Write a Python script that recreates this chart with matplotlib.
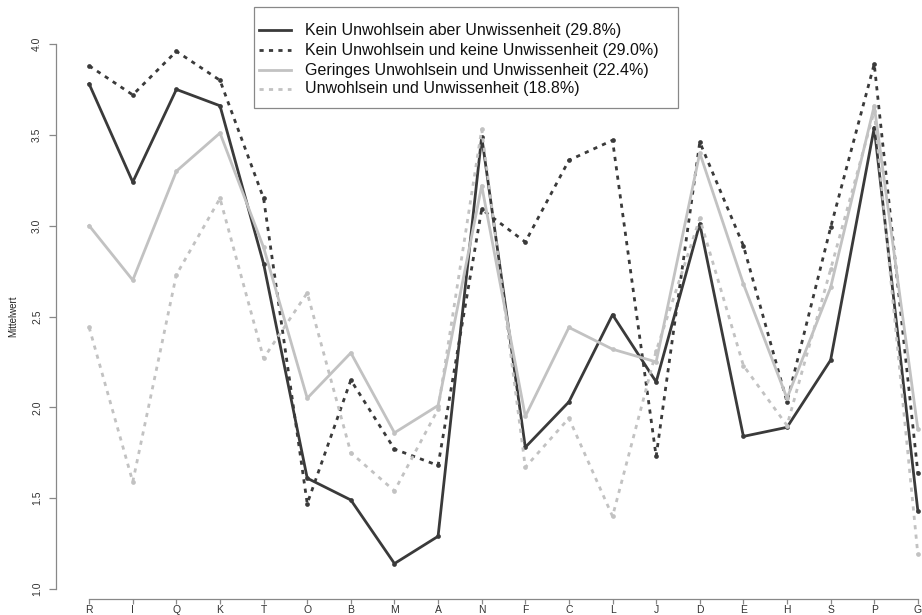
import matplotlib
matplotlib.use("Agg")
import matplotlib.pyplot as plt
import numpy as np
from matplotlib.lines import Line2D
from matplotlib.patches import Rectangle

plt.rcParams["font.family"] = ["Liberation Sans", "DejaVu Sans"]

# categories on the x axis
items = ["R", "I", "Q", "K", "T", "O", "B", "M", "A", "N",
         "F", "C", "L", "J", "D", "E", "H", "S", "P", "G"]

# mean values per latent class
kein_unwohl_aber_unwiss = [3.78, 3.24, 3.75, 3.66, 2.79, 1.61, 1.49, 1.14, 1.29, 3.49,
                           1.78, 2.03, 2.51, 2.14, 3.01, 1.84, 1.89, 2.26, 3.54, 1.43]
kein_unwohl_keine_unwiss = [3.88, 3.72, 3.96, 3.80, 3.15, 1.47, 2.15, 1.77, 1.68, 3.09,
                            2.91, 3.36, 3.47, 1.73, 3.46, 2.89, 2.03, 2.99, 3.89, 1.64]
geringes_unwohl_unwiss = [3.00, 2.70, 3.30, 3.51, 2.88, 2.05, 2.30, 1.86, 2.01, 3.22,
                          1.95, 2.44, 2.32, 2.25, 3.40, 2.68, 2.05, 2.66, 3.66, 1.88]
unwohl_unwiss = [2.44, 1.59, 2.73, 3.15, 2.27, 2.63, 1.75, 1.54, 1.99, 3.53,
                 1.67, 1.94, 1.40, 2.31, 3.04, 2.23, 1.90, 2.76, 3.63, 1.19]

labels = [
    "Kein Unwohlsein aber Unwissenheit (29.8%)",
    "Kein Unwohlsein und keine Unwissenheit (29.0%)",
    "Geringes Unwohlsein und Unwissenheit (22.4%)",
    "Unwohlsein und Unwissenheit (18.8%)",
]

dark = "#3a3a3a"
light = "#c2c2c2"
dashes = (0, (1.5, 1.9))

W, H = 922, 615


def fx(px):
    return px / W


def fy(py):
    return 1 - py / H


fig = plt.figure(figsize=(W / 100, H / 100), dpi=100)
# right edge of the plot region lies outside the picture (cropped original)
ax = fig.add_axes([fx(56), fy(589), (951 - 56) / W, (589 - 44) / H])

x = np.arange(len(items))
series = [
    (kein_unwohl_aber_unwiss, dark, "-"),
    (kein_unwohl_keine_unwiss, dark, dashes),
    (geringes_unwohl_unwiss, light, "-"),
    (unwohl_unwiss, light, dashes),
]
for vals, col, ls in series:
    ax.plot(x, vals, color=col, linestyle=ls, linewidth=2.0, marker="o",
            markersize=3.4, markeredgewidth=0, clip_on=False)

ax.set_xlim(-0.76, len(items) - 1 + 0.76)
ax.set_ylim(1.0, 4.0)

for s in ["top", "right"]:
    ax.spines[s].set_visible(False)
ax.spines["left"].set_bounds(1.0, 4.0)
ax.spines["bottom"].set_bounds(0, len(items) - 1)
ax.spines["bottom"].set_position(("outward", 7.2))
for s in ["left", "bottom"]:
    ax.spines[s].set_color("#888888")
    ax.spines[s].set_linewidth(0.9)

ax.set_xticks(x)
ax.set_xticklabels(items)
yt = np.arange(1.0, 4.01, 0.5)
ax.set_yticks(yt)
ax.set_yticklabels([f"{v:.1f}" for v in yt], rotation=90, va="center")
ax.tick_params(axis="both", colors="#888888", labelcolor="#333333",
               labelsize=7.5, width=0.9)
ax.tick_params(axis="x", length=3.5, pad=0.5)
ax.tick_params(axis="y", length=5, pad=5)

fig.text(fx(13), fy(316), "Mittelwert", rotation=90, fontsize=7,
         color="#222222", ha="center", va="center")

# legend box, drawn by hand to match the original spacing
fig.add_artist(Rectangle((fx(254), fy(108)), (678 - 254) / W, (108 - 7) / H,
                         transform=fig.transFigure, facecolor="white",
                         edgecolor="#888888", linewidth=0.9))
row_y = [30, 50, 70, 89]
for (vals, col, ls), lab, ry in zip(series, labels, row_y):
    fig.add_artist(Line2D([fx(259), fx(291)], [fy(ry), fy(ry)],
                          transform=fig.transFigure, color=col,
                          linestyle=ls, linewidth=2.0))
    fig.text(fx(305), fy(ry), lab, fontsize=11.5, color="#111111",
             ha="left", va="center")

fig.savefig("out.png", dpi=100)
